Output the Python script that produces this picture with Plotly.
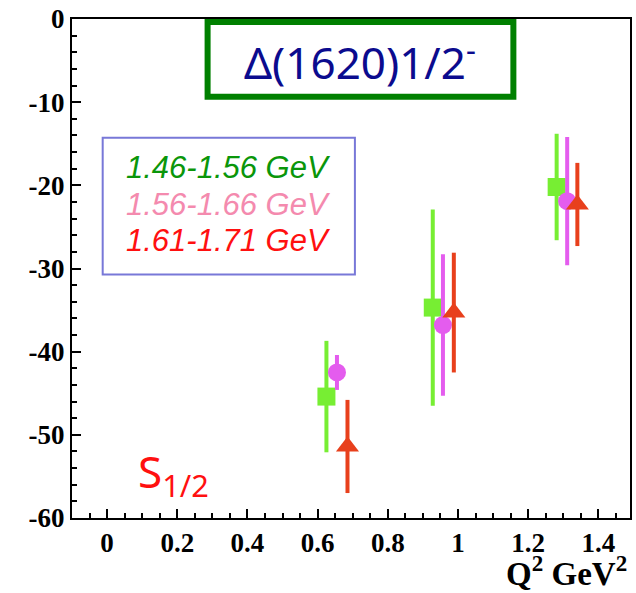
import plotly.graph_objects as go

# Q^2 values (GeV^2), amplitudes and errors for three W bins
q2_bin1 = [0.625, 0.928, 1.281]
s12_bin1 = [-45.4, -34.7, -20.2]
err_bin1 = [6.7, 11.8, 6.4]

q2_bin2 = [0.655, 0.957, 1.311]
s12_bin2 = [-42.5, -36.8, -21.9]
err_bin2 = [2.1, 8.5, 7.7]

q2_bin3 = [0.685, 0.988, 1.340]
s12_bin3 = [-51.4, -35.3, -22.3]
err_bin3 = [5.6, 7.2, 5.0]

bin_labels = ["1.46-1.56 GeV", "1.56-1.66 GeV", "1.61-1.71 GeV"]
bin_text_colors = ["#0A960A", "#F48AAE", "#FF1010"]

x_tickvals = [0, 0.2, 0.4, 0.6, 0.8, 1.0, 1.2, 1.4]
x_ticktext = ["0", "0.2", "0.4", "0.6", "0.8", "1", "1.2", "1.4"]
y_tickvals = [0, -10, -20, -30, -40, -50, -60]
y_ticktext = ["0", "-10", "-20", "-30", "-40", "-50", "-60"]

series = [
    (q2_bin1, s12_bin1, err_bin1, "#77EE33", "square", 18),
    (q2_bin2, s12_bin2, err_bin2, "#E45CEE", "circle", 18),
    (q2_bin3, s12_bin3, err_bin3, "#E8401C", "triangle-up", 20),
]

fig = go.Figure()
for (xs, ys, es, col, sym, sz), name in zip(series, bin_labels):
    fig.add_trace(go.Scatter(
        x=xs, y=ys, mode="markers", name=name,
        marker=dict(color=col, symbol=sym, size=sz, line=dict(width=0)),
        error_y=dict(type="data", array=es, visible=True,
                     color=col, thickness=4, width=0),
        showlegend=False,
    ))

tick_font = dict(family="Liberation Serif", size=27, color="black", weight="bold")

fig.update_xaxes(
    range=[-0.1, 1.49], tickmode="array", tickvals=x_tickvals, ticktext=x_ticktext,
    ticks="inside", ticklen=9, tickwidth=2, tickcolor="black",
    minor=dict(dtick=0.05, tick0=0, ticks="inside", ticklen=5, tickwidth=2, tickcolor="black"),
    showline=True, linewidth=2, linecolor="black", mirror=True,
    showgrid=False, zeroline=False, tickfont=tick_font,
)
fig.update_yaxes(
    range=[-60, 0], tickmode="array", tickvals=y_tickvals, ticktext=y_ticktext,
    ticks="inside", ticklen=9, tickwidth=2, tickcolor="black",
    minor=dict(dtick=2, tick0=0, ticks="inside", ticklen=5, tickwidth=2, tickcolor="black"),
    showline=True, linewidth=2, linecolor="black", mirror=True,
    showgrid=False, zeroline=False, tickfont=tick_font,
)

shapes = [
    # title frame
    dict(type="rect", xref="paper", yref="paper", x0=0.243, x1=0.791, y0=0.844, y1=0.994,
         line=dict(color="#008000", width=6), fillcolor="white", layer="above"),
    # bin key frame
    dict(type="rect", xref="paper", yref="paper", x0=0.055, x1=0.507, y0=0.488, y1=0.762,
         line=dict(color="#7878D8", width=2), fillcolor="rgba(0,0,0,0)"),
]

annotations = [
    dict(text="Δ(1620)1/2<sup>-</sup>", xref="paper", yref="paper", x=0.517, y=0.918,
         xanchor="center", yanchor="middle", showarrow=False,
         font=dict(family="Noto Sans", size=44, color="#0B0B8E")),
    dict(text="S<sub>1/2</sub>", xref="paper", yref="paper", x=0.115, y=0.09,
         xanchor="left", yanchor="middle", showarrow=False,
         font=dict(family="Noto Sans", size=44, color="#FF1010")),
    dict(text="Q<sup>2</sup> GeV<sup>2</sup>", xref="paper", yref="paper", x=0.998, y=-0.106,
         xanchor="right", yanchor="middle", showarrow=False,
         font=dict(family="Liberation Serif", size=33, color="black", weight="bold")),
]
for label, col, yy in zip(bin_labels, bin_text_colors, [0.702, 0.628, 0.556]):
    annotations.append(dict(
        text=f"<i>{label}</i>", xref="paper", yref="paper", x=0.093, y=yy,
        xanchor="left", yanchor="middle", showarrow=False,
        font=dict(family="Liberation Sans", size=31, color=col)))

fig.update_layout(
    width=636, height=593,
    margin=dict(l=72, r=4, t=18, b=75),
    plot_bgcolor="white", paper_bgcolor="white",
    shapes=shapes, annotations=annotations,
)

fig.write_html("out.html")
